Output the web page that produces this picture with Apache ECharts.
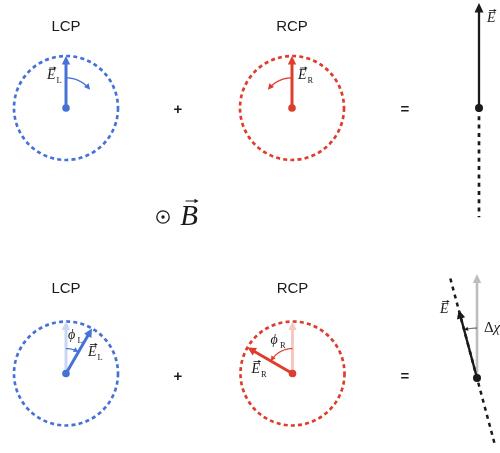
<!DOCTYPE html>
<html>
<head>
<meta charset="utf-8">
<script src="https://cdn.jsdelivr.net/npm/echarts@6/dist/echarts.min.js"></script>
<style>
  html, body { margin: 0; padding: 0; background: #ffffff; }
  #chart { width: 500px; height: 453px; }
</style>
</head>
<body>
<div id="chart"></div>
<script>
// Circular components of a linearly polarised field: without (row 0) and with (row 1) a magnetic field.
const panelTitles = ['LCP', 'RCP'];
// orientation of each field vector, degrees counter-clockwise from vertical, per row
const lcpAngle = [0, -30];
const rcpAngle = [0, 60];
const sumAngle = [0, 15];
// amplitudes in units of one circular component
const lcpAmp = [1, 1];
const rcpAmp = [1, 1];
const sumAmp = [2.02, 1.36];
// unrotated reference vector shown in row 1
const refAmp = [0, 2.0];
// extent of the polarisation plane through the resultant: ahead of / behind the origin
const planeAhead = [0, 1.98];
const planeBehind = [2.1, 1.37];

const INK = '#1a1a1a';
const BLUE = '#4672d6', RED = '#de3c2c';
const BLUE_FADE = '#cad7f3', RED_FADE = '#f5c8c1', GREY = '#bdbdbd';
const SERIF = '"Liberation Serif", "DejaVu Serif", serif';
const SANS = '"Liberation Sans", Arial, sans-serif';

const R = 52;
const CENTERS = [
  [[66, 108], [292, 108], [479, 108]],
  [[66, 373.5], [292.5, 373.5], [477, 378]]
];
const TITLE_Y = [27, 289];

function ang(a) { return ((a % 360) + 360) % 360; }
function pt(api, r, a) { const c = api.coord([r, ang(a)]); return [c[0], c[1]]; }

function head(from, tip, color, len, half) {
  const dx = tip[0] - from[0], dy = tip[1] - from[1];
  const L = Math.hypot(dx, dy) || 1;
  const ux = dx / L, uy = dy / L;
  const bx = tip[0] - ux * len, by = tip[1] - uy * len;
  return {
    type: 'polygon',
    shape: { points: [tip, [bx - uy * half, by + ux * half], [bx + uy * half, by - ux * half]] },
    style: { fill: color }
  };
}

function arrow(tail, tip, color, width, len, half) {
  const dx = tip[0] - tail[0], dy = tip[1] - tail[1];
  const L = Math.hypot(dx, dy) || 1;
  const ux = dx / L, uy = dy / L;
  const ex = tip[0] - ux * (len - 1), ey = tip[1] - uy * (len - 1);
  return [
    { type: 'line', shape: { x1: tail[0], y1: tail[1], x2: ex, y2: ey },
      style: { stroke: color, lineWidth: width } },
    head(tail, tip, color, len, half)
  ];
}

function line(a, b, color, width, dash) {
  return { type: 'line', shape: { x1: a[0], y1: a[1], x2: b[0], y2: b[1] },
    style: { stroke: color, lineWidth: width, lineDash: dash || null } };
}

function arcArrow(api, r, a0, a1, color, width, len, half) {
  const n = 40, pts = [];
  for (let i = 0; i <= n; i++) pts.push(pt(api, r, a0 + (a1 - a0) * i / n));
  return [
    { type: 'polyline', shape: { points: pts.slice(0, n - 2) },
      style: { stroke: color, lineWidth: width, fill: null } },
    head(pts[n - 3], pts[n], color, len, half)
  ];
}

function txt(x, y, text, size, family, opts) {
  opts = opts || {};
  return {
    type: 'text', x: x, y: y,
    style: {
      text: text, fontSize: size, fontFamily: family,
      fontStyle: opts.italic ? 'italic' : 'normal',
      fontWeight: opts.bold ? 'bold' : 'normal',
      fill: opts.fill || INK,
      align: opts.align || 'left', verticalAlign: 'middle'
    }
  };
}

// letter with a vector arrow above and an optional subscript; (x, y) = left edge, vertical middle
function vecLabel(x, y, letter, sub, vec) {
  const size = 14, w = 8.8;
  const els = [txt(x, y, letter, size, SERIF, { italic: true })];
  if (vec) {
    const ay = y - 7.5;
    els.push(line([x + 2, ay], [x + w - 1, ay], INK, 0.8));
    els.push(head([x + 2, ay], [x + w + 0.8, ay], INK, 2.8, 1.6));
  }
  if (sub) els.push(txt(x + w + 0.6, y + 5.5, sub, 8.5, SERIF));
  return els;
}

function renderCircular(row, col, api) {
  const isL = col === 0;
  const color = isL ? BLUE : RED, fade = isL ? BLUE_FADE : RED_FADE;
  const a = isL ? lcpAngle[row] : rcpAngle[row];
  const amp = isL ? lcpAmp[row] : rcpAmp[row];
  const sub = isL ? 'L' : 'R';
  const c = pt(api, 0, 0);
  const els = [];
  els.push(txt(c[0], TITLE_Y[row], panelTitles[col], 15, SANS, { align: 'center' }));
  if (row === 1) els.push(...arrow(c, pt(api, amp, 0), fade, 3, 8.5, 4.2));
  els.push(...arrow(c, pt(api, amp, a), color, 3, 8.5, 4.2));
  if (row === 0) {
    const sweep = isL ? -53 : 53;
    els.push(...arcArrow(api, 0.58, a, a + sweep, color, 1.3, 6, 3));
    els.push(...vecLabel(isL ? c[0] - 19 : c[0] + 6, c[1] - 32.5, 'E', sub, true));
  } else {
    els.push(...arcArrow(api, 0.48, 0, a, color, 1.2, 5, 2.6));
    if (isL) {
      els.push(...vecLabel(c[0] + 2, c[1] - 38, 'ϕ', sub, false));
      els.push(...vecLabel(c[0] + 22, c[1] - 21.5, 'E', sub, true));
    } else {
      els.push(...vecLabel(c[0] - 22, c[1] - 33, 'ϕ', sub, false));
      els.push(...vecLabel(c[0] - 41, c[1] - 4.5, 'E', sub, true));
    }
  }
  els.push({ type: 'circle', shape: { cx: c[0], cy: c[1], r: 3.8 }, style: { fill: color } });
  return { type: 'group', children: els };
}

function renderSum(row, api) {
  const c = pt(api, 0, 0);
  const a = sumAngle[row];
  const els = [];
  if (row === 0) {
    els.push(line(c, pt(api, planeBehind[row], a + 180), INK, 2.7, [4, 4.3]));
    els.push(...arrow(c, pt(api, sumAmp[row], a), INK, 2.3, 9.5, 4.5));
    els.push(...vecLabel(c[0] + 8, c[1] - 90, 'E', null, true));
  } else {
    els.push(line(pt(api, planeAhead[row], a), pt(api, planeBehind[row], a + 180), INK, 2.5, [4, 4.3]));
    els.push(...arrow(c, pt(api, refAmp[row], 0), GREY, 2.6, 9, 4.2));
    els.push(...arrow(c, pt(api, sumAmp[row], a), INK, 2.3, 9, 4.2));
    els.push(...arcArrow(api, 0.96, 0, a, INK, 0.9, 4, 2));
    els.push(...vecLabel(c[0] - 37, c[1] - 69, 'E', null, true));
    els.push(txt(c[0] + 7, c[1] - 50, 'Δ', 15, SERIF));
    els.push(txt(c[0] + 16.5, c[1] - 50, 'χ', 15, SERIF, { italic: true }));
  }
  els.push({ type: 'circle', shape: { cx: c[0], cy: c[1], r: 4 }, style: { fill: INK } });
  return { type: 'group', children: els };
}

const polar = [], angleAxis = [], radiusAxis = [], series = [];
for (let row = 0; row < 2; row++) {
  for (let col = 0; col < 3; col++) {
    const idx = row * 3 + col;
    const circle = col < 2;
    const color = col === 0 ? BLUE : RED;
    polar.push({ center: CENTERS[row][col], radius: R });
    angleAxis.push({
      polarIndex: idx, type: 'value', min: 0, max: 360, startAngle: 90, clockwise: false,
      show: circle,
      axisLine: { show: circle, lineStyle: { color: color, width: 2.7, type: [4, 3.2] } },
      axisTick: { show: false }, axisLabel: { show: false }, splitLine: { show: false }
    });
    radiusAxis.push({
      polarIndex: idx, type: 'value', min: 0, max: 1, show: false,
      axisLine: { show: false }, axisTick: { show: false }, axisLabel: { show: false },
      splitLine: { show: false }
    });
    series.push({
      type: 'custom', coordinateSystem: 'polar', polarIndex: idx,
      data: [[0, 0]], silent: true, animation: false,
      renderItem: (params, api) => circle ? renderCircular(row, col, api) : renderSum(row, api)
    });
  }
}

const graphic = [];
[110, 377].forEach(y => {
  graphic.push({ type: 'text', x: 178, y: y,
    style: { text: '+', fontSize: 15, fontWeight: 'bold', fontFamily: SANS, fill: INK, align: 'center', verticalAlign: 'middle' } });
  graphic.push({ type: 'text', x: 405, y: y,
    style: { text: '=', fontSize: 15, fontWeight: 'bold', fontFamily: SANS, fill: INK, align: 'center', verticalAlign: 'middle' } });
});
// field direction symbol: out of the page
graphic.push({ type: 'circle', shape: { cx: 163, cy: 217, r: 6.2 }, style: { fill: 'none', stroke: INK, lineWidth: 1.3 } });
graphic.push({ type: 'circle', shape: { cx: 163, cy: 217, r: 1.7 }, style: { fill: INK } });
graphic.push({ type: 'text', x: 189, y: 217,
  style: { text: 'B', fontSize: 29, fontStyle: 'italic', fontFamily: SERIF, fill: INK, align: 'center', verticalAlign: 'middle' } });
graphic.push({ type: 'line', shape: { x1: 185.5, y1: 201, x2: 196, y2: 201 }, style: { stroke: INK, lineWidth: 1 } });
graphic.push({ type: 'polygon', shape: { points: [[198.5, 201], [194.5, 198.8], [194.5, 203.2]] }, style: { fill: INK } });

const chart = echarts.init(document.getElementById('chart'), null, { renderer: 'canvas' });
chart.setOption({
  backgroundColor: '#ffffff',
  animation: false,
  polar: polar,
  angleAxis: angleAxis,
  radiusAxis: radiusAxis,
  series: series,
  graphic: graphic
});
</script>
</body>
</html>
